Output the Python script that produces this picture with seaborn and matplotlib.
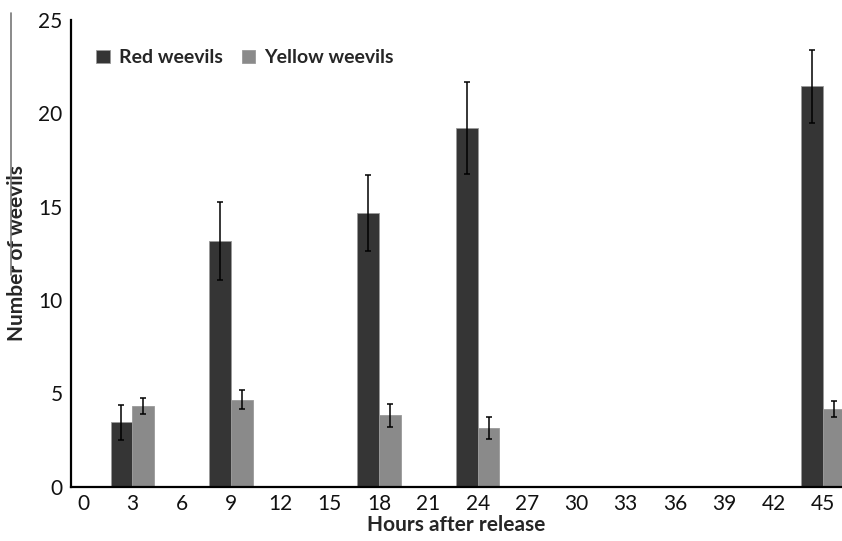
import pandas as pd
import matplotlib.pyplot as plt
import seaborn as sns
from matplotlib.lines import Line2D

# Hours shown on the x axis (every 3 h), bars only where counts were taken
tick_hours = [0, 3, 6, 9, 12, 15, 18, 21, 24, 27, 30, 33, 36, 39, 42, 45]
hours = [3, 9, 18, 24, 45]

red_mean = [3.45, 13.15, 14.65, 19.2, 21.45]
red_err = [0.95, 2.08, 2.04, 2.47, 1.95]
yellow_mean = [4.3, 4.67, 3.82, 3.15, 4.17]
yellow_err = [0.43, 0.53, 0.62, 0.57, 0.43]

groups = ['Red weevils', 'Yellow weevils']
colors = ['#353535', '#8a8a8a']

df = pd.DataFrame({
    'hour': [str(h) for h in hours] * 2,
    'group': [groups[0]] * len(hours) + [groups[1]] * len(hours),
    'count': red_mean + yellow_mean,
    'err': red_err + yellow_err,
})

sns.set_style('white')
plt.rcParams['font.family'] = ['Lato', 'DejaVu Sans']

fig = plt.figure(figsize=(8.42, 5.41), dpi=100)
ax = fig.add_axes([0.0843, 0.1004, 0.9157, 0.8626])

order = [str(h) for h in tick_hours]
sns.barplot(data=df, x='hour', y='count', hue='group', order=order,
            hue_order=groups, palette=colors, width=0.88, errorbar=None,
            edgecolor='#9a9a9a', linewidth=0.6, ax=ax)

# error bars from the table, placed on each drawn bar
for g, cont in zip(groups, ax.containers):
    sub = df[df['group'] == g].set_index('hour')
    for bar in cont:
        cx = bar.get_x() + bar.get_width() / 2
        h = order[int(round(cx))]
        if h not in sub.index:
            continue
        ax.errorbar(cx, sub.loc[h, 'count'], yerr=sub.loc[h, 'err'],
                    fmt='none', ecolor='black', elinewidth=1.1,
                    capsize=2.5, capthick=1.1)

ax.set_xlim(-0.243, 15.385)
ax.set_ylim(0, 25)
ax.set_yticks([0, 5, 10, 15, 20, 25])
ax.tick_params(axis='both', length=0, labelsize=15, colors='#111111')
ax.tick_params(axis='x', pad=5)
ax.tick_params(axis='y', pad=6)

for s in ['top', 'right']:
    ax.spines[s].set_visible(False)
for s in ['left', 'bottom']:
    ax.spines[s].set_color('black')
    ax.spines[s].set_linewidth(1.6)

ax.set_xlabel('Hours after release', fontsize=15, fontweight='bold', labelpad=1)
ax.set_ylabel('Number of weevils', fontsize=15, fontweight='bold')
ax.yaxis.set_label_coords(-0.057, 0.5)

leg = ax.legend(loc='upper left', bbox_to_anchor=(0.01, 0.975), ncol=2,
                frameon=False, fontsize=14, handlelength=0.7,
                handleheight=0.7, handletextpad=0.45, columnspacing=1.0)
for t in leg.get_texts():
    t.set_fontweight('bold')

# thin grey rule at the left edge, as in the scanned figure
fig.add_artist(Line2D([0.013, 0.013], [0.492, 0.976], color='#777777', lw=1.2))

fig.savefig('out.png', dpi=100)
